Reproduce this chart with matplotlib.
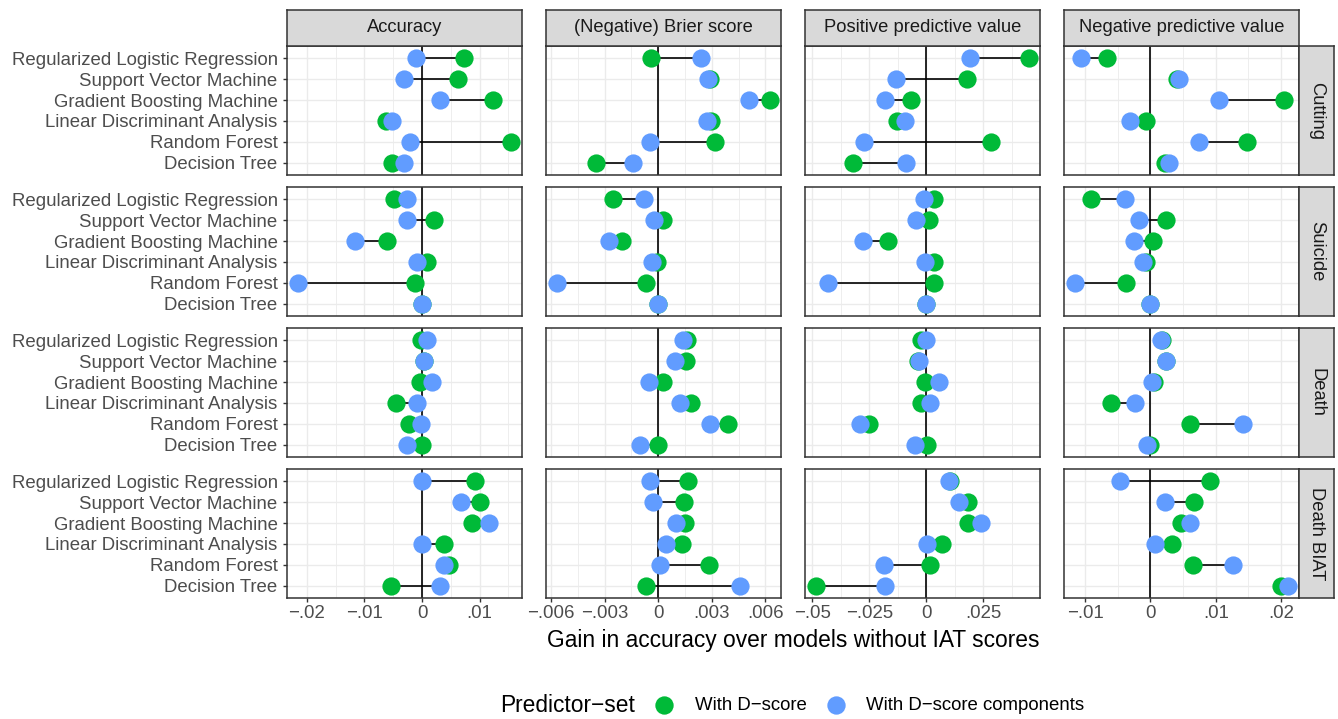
import numpy as np
import matplotlib
matplotlib.use("Agg")
import matplotlib.pyplot as plt
from matplotlib.lines import Line2D

plt.rcParams['font.family'] = ['Liberation Sans', 'DejaVu Sans']

# ---------------- data ----------------
models = ["Regularized Logistic Regression", "Support Vector Machine",
          "Gradient Boosting Machine", "Linear Discriminant Analysis",
          "Random Forest", "Decision Tree"]
outcomes = ["Cutting", "Suicide", "Death", "Death BIAT"]
metrics = ["Accuracy", "(Negative) Brier score",
           "Positive predictive value", "Negative predictive value"]
series_names = ["With D\u2212score", "With D\u2212score components"]

# rows: outcomes; columns: models (order as in `models`)
acc_dscore = [[0.0072, 0.0063, 0.0124, -0.0063, 0.0155, -0.0053],
              [-0.0049, 0.0021, -0.0061, 0.0008, -0.0013, 0.0000],
              [-0.0001, 0.0003, -0.0003, -0.0045, -0.0023, 0.0000],
              [0.0092, 0.0100, 0.0086, 0.0038, 0.0046, -0.0054]]
acc_comp = [[-0.0011, -0.0031, 0.0031, -0.0052, -0.0021, -0.0032],
            [-0.0027, -0.0027, -0.0117, -0.0009, -0.0216, 0.0000],
            [0.0008, 0.0003, 0.0017, -0.0009, -0.0001, -0.0027],
            [0.0000, 0.0068, 0.0117, 0.0000, 0.0038, 0.0031]]

brier_dscore = [[-0.00041, 0.0029, 0.00628, 0.00298, 0.00319, -0.0035],
                [-0.00255, 0.00028, -0.00203, -0.00004, -0.00066, 0.0],
                [0.00163, 0.00158, 0.00026, 0.00182, 0.00392, 0.0],
                [0.00165, 0.00144, 0.00148, 0.00135, 0.00285, -0.00068]]
brier_comp = [[0.00238, 0.0028, 0.0051, 0.00272, -0.00047, -0.00143],
              [-0.00077, -0.00023, -0.00276, -0.00032, -0.00568, 0.0],
              [0.00139, 0.00094, -0.00051, 0.0012, 0.00289, -0.00099],
              [-0.00047, -0.0003, 0.00098, 0.00043, 0.0001, 0.0046]]

ppv_dscore = [[0.0452, 0.0178, -0.0068, -0.0130, 0.0283, -0.0321],
              [0.0033, 0.0012, -0.0170, 0.0036, 0.0033, 0.0],
              [-0.0023, -0.0036, -0.0006, -0.0023, -0.0250, 0.0003],
              [0.0104, 0.0184, 0.0181, 0.0068, 0.0018, -0.0485]]
ppv_comp = [[0.0193, -0.0133, -0.0181, -0.0095, -0.0274, -0.0089],
            [-0.0011, -0.0047, -0.0277, -0.0005, -0.0432, 0.0],
            [-0.0003, -0.0032, 0.0054, 0.0018, -0.0292, -0.0050],
            [0.0099, 0.0143, 0.0241, 0.0002, -0.0187, -0.0179]]

npv_dscore = [[-0.0067, 0.0041, 0.0204, -0.0007, 0.0147, 0.0022],
              [-0.0091, 0.0024, 0.0004, -0.0007, -0.0037, 0.0],
              [0.0018, 0.0024, 0.0005, -0.0061, 0.0060, 0.0000],
              [0.0091, 0.0066, 0.0046, 0.0033, 0.0065, 0.0200]]
npv_comp = [[-0.0106, 0.0043, 0.0105, -0.0031, 0.0074, 0.0028],
            [-0.0039, -0.0018, -0.0025, -0.0012, -0.0116, 0.0],
            [0.0016, 0.0024, 0.0002, -0.0023, 0.0142, -0.0005],
            [-0.0047, 0.0023, 0.0060, 0.0007, 0.0126, 0.0211]]

acc_ticks = [-0.02, -0.01, 0, 0.01]
acc_labels = ["\u2212.02", "\u2212.01", "0", ".01"]
brier_ticks = [-0.006, -0.003, 0, 0.003, 0.006]
brier_labels = ["\u2212.006", "\u2212.003", "0", ".003", ".006"]
ppv_ticks = [-0.05, -0.025, 0, 0.025]
ppv_labels = ["\u2212.05", "\u2212.025", "0", ".025"]
npv_ticks = [-0.01, 0, 0.01, 0.02]
npv_labels = ["\u2212.01", "0", ".01", ".02"]

# ---------------- styling / layout ----------------
GREEN = "#00BA38"
BLUE = "#619CFF"
GRID = "#EBEBEB"
BORDER = "#333333"
STRIP = "#D9D9D9"
AXTXT = "#4D4D4D"
STRIPTXT = "#1A1A1A"
SMALL = 13.2
TICK = 13.45
BIG = 16.4

W, H = 1338, 719
fig = plt.figure(figsize=(W / 100, H / 100), dpi=100)
fig.patch.set_facecolor("white")

col_left = [287, 546, 805, 1064]
panel_w = 235
row_top = [46, 187, 328, 469]
panel_h = 129


def rect(left, top, w, h):
    return [left / W, 1 - (top + h) / H, w / W, h / H]


columns = [
    (acc_dscore, acc_comp, acc_ticks, acc_labels),
    (brier_dscore, brier_comp, brier_ticks, brier_labels),
    (ppv_dscore, ppv_comp, ppv_ticks, ppv_labels),
    (npv_dscore, npv_comp, npv_ticks, npv_labels),
]

ypos = np.arange(len(models))[::-1] + 1.0  # top row = first model
msize = 172

for c, (gd, bd, ticks, tlabels) in enumerate(columns):
    allv = np.concatenate([np.ravel(gd), np.ravel(bd)])
    lo, hi = allv.min(), allv.max()
    pad = 0.05 * (hi - lo)
    xlim = (lo - pad, hi + pad)
    step = ticks[1] - ticks[0]
    minor = [t + step / 2 for t in [ticks[0] - step] + list(ticks)]
    minor = [m for m in minor if xlim[0] < m < xlim[1]]
    for r in range(len(outcomes)):
        ax = fig.add_axes(rect(col_left[c], row_top[r], panel_w, panel_h))
        ax.set_xticks(ticks)
        ax.set_xticks(minor, minor=True)
        ax.set_yticks(ypos)
        ax.set_xlim(*xlim)
        ax.set_ylim(0.4, len(models) + 0.6)
        ax.grid(which="major", color=GRID, lw=1.0)
        ax.grid(which="minor", axis="x", color=GRID, lw=0.6)
        ax.set_axisbelow(True)
        for s in ax.spines.values():
            s.set_color(BORDER)
            s.set_linewidth(1.1)
        g = np.array(gd[r])
        b = np.array(bd[r])
        ax.axvline(0, color="black", lw=1.2, zorder=1.5)
        ax.hlines(ypos, g, b, color="black", lw=1.2, zorder=2)
        ax.scatter(g, ypos, s=msize, color=GREEN, linewidths=0, zorder=3)
        ax.scatter(b, ypos, s=msize, color=BLUE, linewidths=0, zorder=4)

        ax.tick_params(which="minor", length=0)
        ax.tick_params(which="major", color=BORDER, width=1.0, length=3.2,
                       labelsize=TICK, labelcolor=AXTXT, pad=2.2)
        if r == len(outcomes) - 1:
            ax.set_xticklabels(tlabels)
        else:
            ax.tick_params(axis="x", which="major", length=0, labelbottom=False)
        if c == 0:
            ax.set_yticklabels(models)
            ax.tick_params(axis="y", pad=3.5)
        else:
            ax.tick_params(axis="y", which="major", length=0, labelleft=False)

        # right strips
        if c == len(columns) - 1:
            sax = fig.add_axes(rect(col_left[c] + panel_w, row_top[r], 35, panel_h))
            sax.set_facecolor(STRIP)
            sax.set_xticks([]); sax.set_yticks([])
            for s in sax.spines.values():
                s.set_color(BORDER); s.set_linewidth(1.1)
            sax.text(0.5, 0.5, outcomes[r], rotation=270, ha="center", va="center",
                     fontsize=SMALL, color=STRIPTXT, transform=sax.transAxes)
    # top strips
    tax = fig.add_axes(rect(col_left[c], 10, panel_w, 36))
    tax.set_facecolor(STRIP)
    tax.set_xticks([]); tax.set_yticks([])
    for s in tax.spines.values():
        s.set_color(BORDER); s.set_linewidth(1.1)
    tax.text(0.5, 0.5, metrics[c], ha="center", va="center",
             fontsize=SMALL, color=STRIPTXT, transform=tax.transAxes)

# axis title
fig.text((col_left[0] + col_left[-1] + panel_w) / 2 / W, 1 - 641 / H,
         "Gain in accuracy over models without IAT scores",
         ha="center", va="center", fontsize=BIG, color="black")

# legend
ly = 1 - 705 / H
fig.text(500 / W, ly, "Predictor\u2212set", ha="left", va="center",
         fontsize=BIG, color="black")
for xm, xt, col, lab in [(664, 695, GREEN, series_names[0]),
                         (836, 866, BLUE, series_names[1])]:
    fig.add_artist(Line2D([xm / W], [ly], transform=fig.transFigure, marker="o",
                          markersize=13.2, color=col, markeredgewidth=0, linestyle="none"))
    fig.text(xt / W, ly, lab, ha="left", va="center", fontsize=TICK, color="black")

fig.savefig("out.png", dpi=100, facecolor="white")
